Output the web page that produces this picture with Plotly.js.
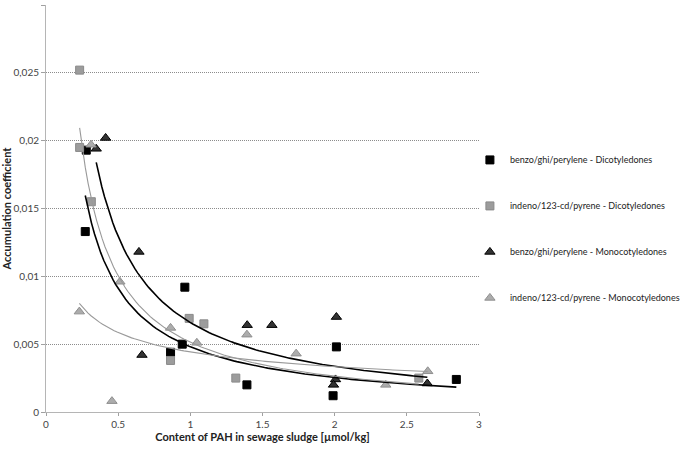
<!DOCTYPE html>
<html>
<head>
<meta charset="utf-8">
<script src="https://cdn.plot.ly/plotly-3.0.1.min.js"></script>
<style>
  html, body { margin: 0; padding: 0; background: #fff; }
  #chart { width: 685px; height: 449px; }
</style>
</head>
<body>
<div id="chart"></div>
<script>
// ---- data ----
const seriesNames = [
  'benzo/ghi/perylene - Dicotyledones',
  'indeno/123-cd/pyrene - Dicotyledones',
  'benzo/ghi/perylene - Monocotyledones',
  'indeno/123-cd/pyrene - Monocotyledones'
];
const benzoDicotX  = [0.279, 0.272, 0.962, 0.944, 0.863, 1.392, 2.012, 1.989, 2.843];
const benzoDicotY  = [0.0193, 0.0133, 0.0092, 0.0050, 0.0044, 0.0020, 0.0048, 0.0012, 0.0024];
const indenoDicotX = [0.233, 0.233, 0.314, 0.992, 1.094, 0.863, 1.315, 2.583];
const indenoDicotY = [0.0252, 0.0195, 0.0155, 0.0069, 0.0065, 0.0038, 0.0025, 0.0025];
const benzoMonoX   = [0.413, 0.348, 0.644, 0.665, 1.394, 1.565, 2.012, 2.006, 1.992, 2.642];
const benzoMonoY   = [0.0202, 0.0194, 0.0118, 0.0042, 0.0064, 0.0064, 0.0070, 0.0024, 0.0020, 0.0021];
const indenoMonoX  = [0.312, 0.231, 0.512, 0.457, 0.863, 1.045, 1.392, 1.733, 2.354, 2.645];
const indenoMonoY  = [0.0197, 0.0074, 0.0096, 0.0008, 0.0062, 0.0051, 0.0057, 0.0043, 0.0020, 0.0030];

const xTickVals = [0, 0.5, 1, 1.5, 2, 2.5, 3];
const xTickText = ['0', '0.5', '1', '1.5', '2', '2.5', '3'];
const yTickVals = [0, 0.005, 0.01, 0.015, 0.02, 0.025, 0.03];
const yTickText = ['0', '0,005', '0,01', '0,015', '0,02', '0,025', '0,03'];

// ---- styles ----
const styles = [
  { symbol: 'square', size: 8, color: '#000000', line: '#000000', trend: '#000000', tw: 1.6 },
  { symbol: 'square', size: 8, color: '#9c9c9c', line: '#8a8a8a', trend: '#999999', tw: 1.1 },
  { symbol: 'triangle-up', size: 9, color: '#333333', line: '#000000', trend: '#000000', tw: 1.6 },
  { symbol: 'triangle-up', size: 9, color: '#acacac', line: '#8f8f8f', trend: '#9a9a9a', tw: 1.1 }
];

// power trendline y = a * x^b fitted by least squares in log-log space
function powerFit(xs, ys) {
  const lx = xs.map(Math.log), ly = ys.map(Math.log);
  const n = lx.length;
  const mx = lx.reduce((s, v) => s + v, 0) / n;
  const my = ly.reduce((s, v) => s + v, 0) / n;
  let sxy = 0, sxx = 0;
  for (let i = 0; i < n; i++) { sxy += (lx[i] - mx) * (ly[i] - my); sxx += (lx[i] - mx) ** 2; }
  const b = sxy / sxx;
  const a = Math.exp(my - b * mx);
  const x0 = Math.min(...xs), x1 = Math.max(...xs);
  const tx = [], ty = [];
  const steps = 120;
  for (let i = 0; i <= steps; i++) {
    const x = x0 + (x1 - x0) * i / steps;
    tx.push(x); ty.push(a * Math.pow(x, b));
  }
  return { tx, ty };
}

const seriesX = [benzoDicotX, indenoDicotX, benzoMonoX, indenoMonoX];
const seriesY = [benzoDicotY, indenoDicotY, benzoMonoY, indenoMonoY];

const traces = [];
seriesX.forEach((xs, i) => {
  const st = styles[i];
  traces.push({
    type: 'scatter', mode: 'markers', x: xs, y: seriesY[i],
    name: seriesNames[i], legendgroup: 'g' + i,
    marker: { symbol: st.symbol, size: st.size, color: st.color, line: { color: st.line, width: 1 } },
    hoverinfo: 'x+y'
  });
});
seriesX.forEach((xs, i) => {
  const st = styles[i];
  const f = powerFit(xs, seriesY[i]);
  traces.push({
    type: 'scatter', mode: 'lines', x: f.tx, y: f.ty,
    legendgroup: 'g' + i, showlegend: false,
    line: { color: st.trend, width: st.tw }, hoverinfo: 'skip'
  });
});

const font = 'Lato, "Open Sans", sans-serif';
const layout = {
  width: 685, height: 449,
  margin: { l: 46, r: 206, t: 5, b: 37, autoexpand: false },
  paper_bgcolor: '#ffffff', plot_bgcolor: '#ffffff',
  font: { family: font, size: 10, color: '#333333' },
  showlegend: true,
  legend: {
    x: 0.979, xanchor: 'left', y: 0.655, yanchor: 'top',
    font: { family: font, size: 9, color: '#222222' },
    tracegroupgap: 27, itemwidth: 30, bgcolor: 'rgba(0,0,0,0)'
  },
  xaxis: {
    range: [0, 3], tickmode: 'array', tickvals: xTickVals, ticktext: xTickText,
    showgrid: false, zeroline: false,
    showline: true, linecolor: '#b5b5b5', linewidth: 1,
    ticks: 'outside', ticklen: 3, tickcolor: '#a0a0a0',
    tickfont: { family: font, size: 10, color: '#444444' },
    title: { text: '<b>Content of PAH in sewage sludge [µmol/kg]</b>', font: { family: font, size: 11, color: '#222222' }, standoff: 4 }
  },
  yaxis: {
    range: [0, 0.03], tickmode: 'array', tickvals: yTickVals, ticktext: yTickText,
    showgrid: true, gridcolor: '#8c8c8c', griddash: '1px,1px', gridwidth: 1,
    zeroline: false,
    showline: true, linecolor: '#b5b5b5', linewidth: 1,
    ticks: 'outside', ticklen: 4, tickcolor: '#a0a0a0',
    tickfont: { family: font, size: 10, color: '#444444' },
    title: { text: '<b>Accumulation coefficient</b>', font: { family: font, size: 11, color: '#222222' }, standoff: 4 }
  }
};

Plotly.newPlot('chart', traces, layout, { displayModeBar: false, staticPlot: true });
</script>
</body>
</html>
